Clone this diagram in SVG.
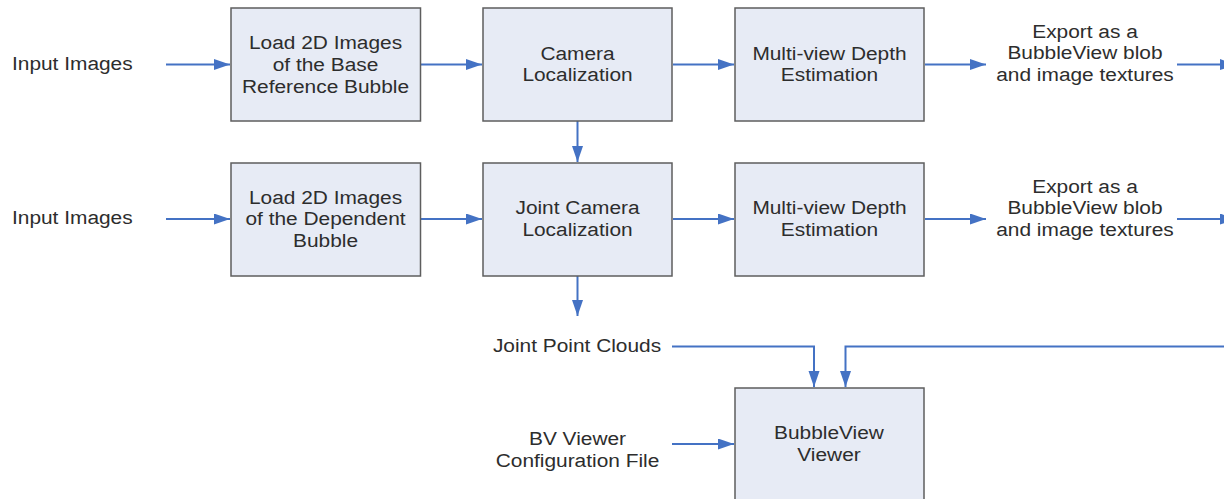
<svg xmlns="http://www.w3.org/2000/svg" width="1224" height="499" viewBox="0 0 1224 499">
  <style>
    .box { fill: #e7ebf5; stroke: #5e5e5e; stroke-width: 1.5; }
    .lbl { font-family: "Liberation Sans", Arial, sans-serif; font-size: 18px; fill: #2d2d2d; }
    .mid { text-anchor: middle; }
    .wire { fill: none; stroke: #4472c4; stroke-width: 2; }
  </style>
  <defs>
    <marker id="arrow" markerUnits="userSpaceOnUse" markerWidth="17" markerHeight="12" refX="16" refY="5.5" orient="auto">
      <path d="M0,0 L16,5.5 L0,11 z" fill="#4472c4"/>
    </marker>
  </defs>
  <rect width="1224" height="499" fill="#ffffff"/>

  <!-- connectors -->
  <g id="connectors" class="wire" marker-end="url(#arrow)">
    <line x1="166" y1="64.5" x2="230" y2="64.5"/>
    <line x1="421" y1="64.5" x2="482" y2="64.5"/>
    <line x1="673" y1="64.5" x2="734" y2="64.5"/>
    <line x1="925" y1="64.5" x2="986" y2="64.5"/>
    <line x1="1177" y1="64.5" x2="1236" y2="64.5"/>
    <line x1="166" y1="219" x2="230" y2="219"/>
    <line x1="421" y1="219" x2="482" y2="219"/>
    <line x1="673" y1="219" x2="734" y2="219"/>
    <line x1="925" y1="219" x2="986" y2="219"/>
    <line x1="1177" y1="219" x2="1236" y2="219"/>
    <line x1="577.5" y1="121" x2="577.5" y2="162"/>
    <line x1="577.5" y1="276" x2="577.5" y2="316"/>
    <polyline points="672,346.5 814,346.5 814,387"/>
    <polyline points="1224,346.5 845.5,346.5 845.5,387"/>
    <line x1="672" y1="444" x2="734" y2="444"/>
  </g>

  <!-- free labels -->
  <g id="input-base">
    <text class="lbl" transform="translate(12,69.5) scale(1.16,1)">Input Images</text>
  </g>
  <g id="input-dependent">
    <text class="lbl" transform="translate(12,224) scale(1.16,1)">Input Images</text>
  </g>
  <g id="export-base">
    <text class="lbl mid" transform="translate(1085,38) scale(1.16,1)"><tspan x="0" y="0">Export as a</tspan><tspan x="0" y="21.5">BubbleView blob</tspan><tspan x="0" y="43">and image textures</tspan></text>
  </g>
  <g id="export-dependent">
    <text class="lbl mid" transform="translate(1085,193) scale(1.16,1)"><tspan x="0" y="0">Export as a</tspan><tspan x="0" y="21.5">BubbleView blob</tspan><tspan x="0" y="43">and image textures</tspan></text>
  </g>
  <g id="joint-point-clouds">
    <text class="lbl mid" transform="translate(577,352) scale(1.16,1)">Joint Point Clouds</text>
  </g>
  <g id="viewer-config">
    <text class="lbl mid" transform="translate(577.5,445) scale(1.16,1)"><tspan x="0" y="0">BV Viewer</tspan><tspan x="0" y="22">Configuration File</tspan></text>
  </g>

  <!-- process boxes -->
  <g id="load-base">
    <rect class="box" x="231" y="8" width="189.5" height="113"/>
    <text class="lbl mid" transform="translate(325.5,49) scale(1.16,1)"><tspan x="0" y="0">Load 2D Images</tspan><tspan x="0" y="22">of the Base</tspan><tspan x="0" y="44">Reference Bubble</tspan></text>
  </g>
  <g id="camera-localization">
    <rect class="box" x="483" y="8" width="189" height="113"/>
    <text class="lbl mid" transform="translate(577.5,59.5) scale(1.16,1)"><tspan x="0" y="0">Camera</tspan><tspan x="0" y="22">Localization</tspan></text>
  </g>
  <g id="depth-base">
    <rect class="box" x="735" y="8" width="189" height="113"/>
    <text class="lbl mid" transform="translate(829.5,59.5) scale(1.16,1)"><tspan x="0" y="0">Multi-view Depth</tspan><tspan x="0" y="22">Estimation</tspan></text>
  </g>
  <g id="load-dependent">
    <rect class="box" x="231" y="163" width="189.5" height="113"/>
    <text class="lbl mid" transform="translate(325.5,203.5) scale(1.16,1)"><tspan x="0" y="0">Load 2D Images</tspan><tspan x="0" y="22">of the Dependent</tspan><tspan x="0" y="44">Bubble</tspan></text>
  </g>
  <g id="joint-camera-localization">
    <rect class="box" x="483" y="163" width="189" height="113"/>
    <text class="lbl mid" transform="translate(577.5,214) scale(1.16,1)"><tspan x="0" y="0">Joint Camera</tspan><tspan x="0" y="22">Localization</tspan></text>
  </g>
  <g id="depth-dependent">
    <rect class="box" x="735" y="163" width="189" height="113"/>
    <text class="lbl mid" transform="translate(829.5,214) scale(1.16,1)"><tspan x="0" y="0">Multi-view Depth</tspan><tspan x="0" y="22">Estimation</tspan></text>
  </g>
  <g id="bubbleview-viewer">
    <rect class="box" x="735" y="388" width="189" height="130"/>
    <text class="lbl mid" transform="translate(829,439) scale(1.16,1)"><tspan x="0" y="0">BubbleView</tspan><tspan x="0" y="22">Viewer</tspan></text>
  </g>
</svg>
